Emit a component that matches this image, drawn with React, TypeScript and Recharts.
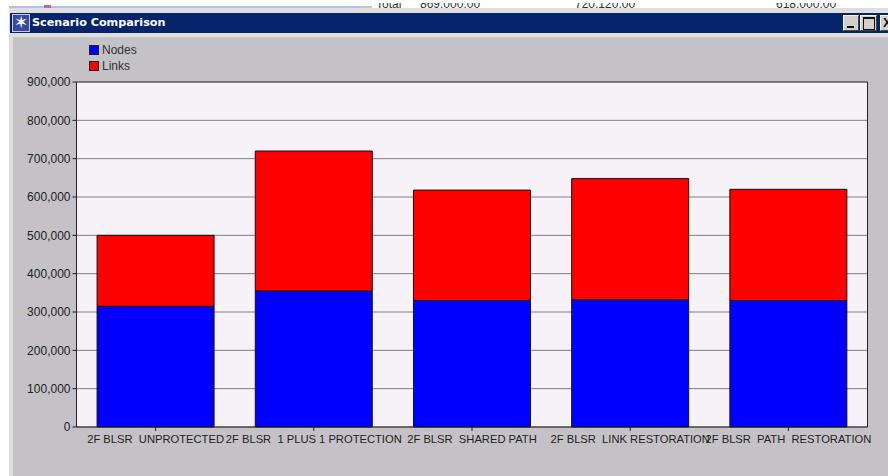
import { BarChart, Bar, XAxis, YAxis, CartesianGrid, Legend, ReferenceLine } from "recharts"

const categories = [
  "2F BLSR  UNPROTECTED",
  "2F BLSR  1 PLUS 1 PROTECTION",
  "2F BLSR  SHARED PATH",
  "2F BLSR  LINK RESTORATION",
  "2F BLSR  PATH  RESTORATION",
]
const nodes = [315000, 355000, 330000, 332000, 330000]
const links = [185000, 365000, 288000, 316000, 290000]
const yTicks = [0, 100000, 200000, 300000, 400000, 500000, 600000, 700000, 800000, 900000]

const chartData = categories.map((name, i) => ({ name, nodes: nodes[i], links: links[i] }))

const FONT = "'Liberation Sans', Arial, sans-serif"

const CategoryTick = ({ x, y, payload }: any) => (
  <text x={x} y={y + 10} textAnchor="middle" fontSize={11.2} fill="#222" fontFamily={FONT} style={{ whiteSpace: "pre" }}>
    {payload.value}
  </text>
)

const ChartLegend = ({ payload }: any) => (
  <div style={{ fontFamily: FONT, fontSize: 12, color: "#333" }}>
    {payload.map((item: any) => (
      <div key={item.value} style={{ display: "flex", alignItems: "center", height: 16 }}>
        <span style={{ width: 8, height: 8, background: item.color, border: "1px solid #222", marginRight: 3 }} />
        {item.value}
      </div>
    ))}
  </div>
)

const WindowButton = ({ left, width, children }: any) => (
  <div
    style={{
      position: "absolute",
      left,
      top: 15,
      width,
      height: 16,
      background: "#d4d0c8",
      borderTop: "1px solid #f4f4f4",
      borderLeft: "1px solid #f4f4f4",
      borderRight: "1px solid #444",
      borderBottom: "1px solid #444",
      boxSizing: "border-box",
    }}
  >
    {children}
  </div>
)

const BehindText = ({ left, children }: any) => (
  <div style={{ position: "absolute", left, top: -5, fontFamily: FONT, fontSize: 12, lineHeight: "12px", color: "#333", whiteSpace: "nowrap" }}>
    {children}
  </div>
)

export default function App() {
  return (
    <div style={{ position: "fixed", left: 0, top: 0, width: 888, height: 476, background: "#fff", overflow: "hidden" }}>
      {/* clipped strip of the window behind */}
      <div style={{ position: "absolute", left: 9, top: 6, width: 351, height: 2, background: "#b4c0ea" }} />
      <div style={{ position: "absolute", left: 360, top: 6, width: 12, height: 2, background: "#c8c8c0" }} />
      <div style={{ position: "absolute", left: 44, top: 5, width: 7, height: 3, background: "#c060b0" }} />
      <div style={{ position: "absolute", left: 0, top: 3, width: 888, height: 5, overflow: "hidden" }}>
        <BehindText left={376}>Total</BehindText>
        <BehindText left={420}>869,000.00</BehindText>
        <BehindText left={575}>720,120.00</BehindText>
        <BehindText left={776}>618,000.00</BehindText>
      </div>

      <div style={{ position: "absolute", left: 9, top: 8, width: 879, height: 468, background: "#dedede" }} />
      <div
        style={{
          position: "absolute",
          left: 10,
          top: 13,
          width: 878,
          height: 20,
          background: "#06246a",
          color: "#fff",
          fontFamily: "'DejaVu Sans', sans-serif",
          fontSize: 11.2,
          fontWeight: "bold",
          lineHeight: "20px",
          paddingLeft: 22,
          boxSizing: "border-box",
        }}
      >
        Scenario Comparison
      </div>
      <div
        style={{
          position: "absolute",
          left: 12,
          top: 14,
          width: 18,
          height: 18,
          background: "#3a4aa0",
          border: "1px solid #c8cce8",
          boxSizing: "border-box",
          color: "#fff",
          fontSize: 17,
          lineHeight: "16px",
          textAlign: "center",
        }}
      >
        ✶
      </div>
      <WindowButton left={843} width={16}>
        <div style={{ position: "absolute", left: 3, bottom: 2, width: 7, height: 2, background: "#111" }} />
      </WindowButton>
      <WindowButton left={860} width={17}>
        <div style={{ position: "absolute", left: 2, top: 1, width: 10, height: 10, border: "1px solid #111", borderTop: "2px solid #111" }} />
      </WindowButton>
      <WindowButton left={880} width={16}>
        <div style={{ position: "absolute", left: 2, top: 0, fontFamily: FONT, fontSize: 13, fontWeight: "bold", lineHeight: "14px", color: "#111" }}>X</div>
      </WindowButton>

      <div style={{ position: "absolute", left: 13, top: 37, width: 875, height: 439, background: "#c4c2c6" }}>
        <BarChart
          width={875}
          height={439}
          data={chartData}
          barCategoryGap="13%"
          margin={{ top: 45, right: 19.5, left: 0.5, bottom: 0 }}
        >
          <CartesianGrid yAxisId="left" vertical={false} stroke="#808080" fill="#f6f2f8" />
          <XAxis dataKey="name" interval={0} tick={<CategoryTick />} tickSize={4} stroke="#222" height={49} />
          <YAxis
            yAxisId="left"
            width={63}
            domain={[0, 900000]}
            ticks={yTicks}
            interval={0}
            tickSize={4}
            stroke="#222"
            tick={{ fontSize: 12, fill: "#222", fontFamily: FONT }}
            tickFormatter={(v: number) => v.toLocaleString("en-US")}
          />
          <YAxis yAxisId="right" orientation="right" width={1} tick={false} tickLine={false} stroke="#222" />
          <ReferenceLine yAxisId="left" y={900000} stroke="#444" />
          <Legend
            content={<ChartLegend />}
            layout="vertical"
            verticalAlign="middle"
            align="center"
            itemSorter={null}
            wrapperStyle={{ left: 76, top: 5, width: 100 }}
          />
          <Bar yAxisId="left" dataKey="nodes" name="Nodes" stackId="a" fill="#0000ff" stroke="#111" isAnimationActive={false} />
          <Bar yAxisId="left" dataKey="links" name="Links" stackId="a" fill="#ff0000" stroke="#111" isAnimationActive={false} />
        </BarChart>
      </div>
    </div>
  )
}
